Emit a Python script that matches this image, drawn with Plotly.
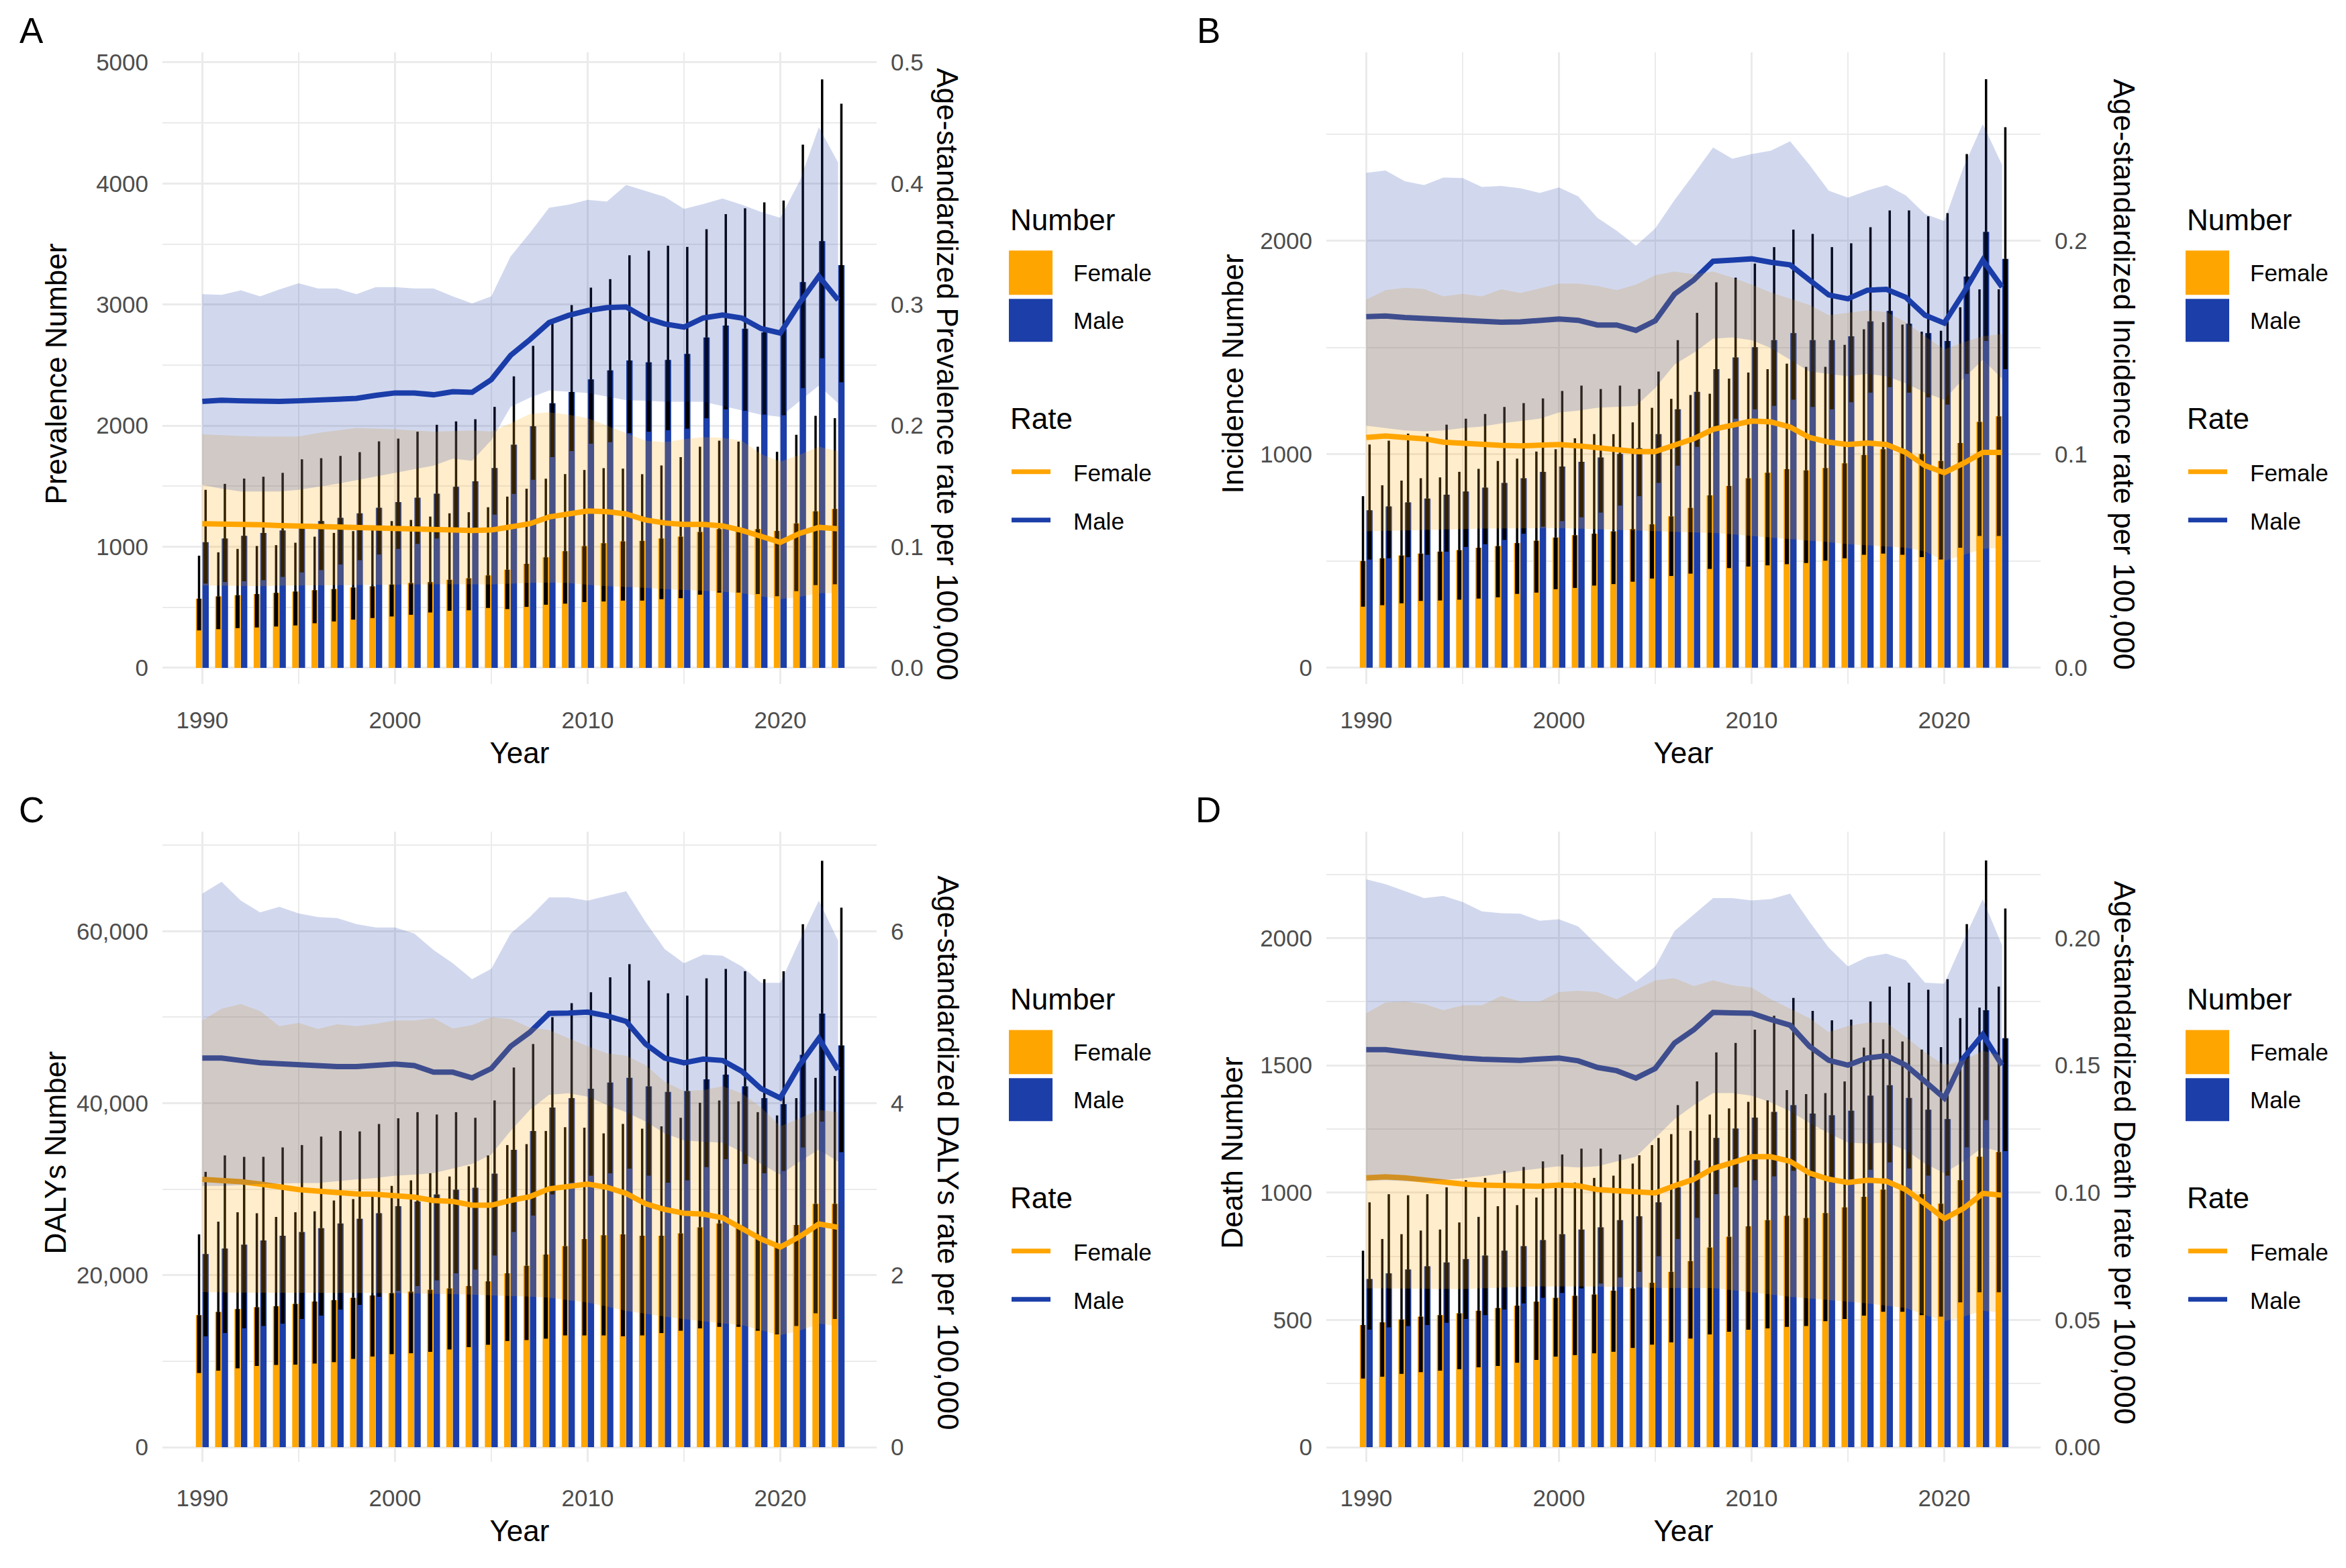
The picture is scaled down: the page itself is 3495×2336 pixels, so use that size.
import plotly.graph_objects as go

years = list(range(1990, 2024))

# ---- A: prevalence ----
A_f_num = [571, 590, 600, 609, 619, 630, 641, 651, 663, 673,
           688, 700, 708, 727, 739, 763, 810, 859, 913, 963,
           1005, 1029, 1044, 1048, 1068, 1083, 1122, 1145, 1153, 1145,
           1130, 1192, 1293, 1312]
A_f_lo = [309, 319, 328, 333, 341, 350, 368, 383, 398, 411,
          424, 438, 457, 471, 475, 494, 485, 503, 521, 530,
          543, 548, 555, 555, 567, 575, 604, 621, 621, 609,
          591, 633, 683, 690]
A_f_hi = [926, 954, 982, 1006, 1013, 1033, 1083, 1114, 1129, 1175,
          1212, 1221, 1249, 1276, 1285, 1326, 1414, 1479, 1562, 1600,
          1634, 1649, 1645, 1599, 1671, 1740, 1826, 1876, 1868, 1826,
          1784, 1925, 2081, 2061]
A_m_num = [1037, 1068, 1090, 1114, 1134, 1160, 1212, 1239, 1276, 1322,
           1368, 1405, 1438, 1495, 1540, 1650, 1842, 1995, 2185, 2278,
           2382, 2456, 2538, 2523, 2543, 2592, 2728, 2827, 2800, 2770,
           2800, 3185, 3523, 3326]
A_m_lo = [696, 709, 715, 724, 751, 788, 807, 853, 889, 936,
          982, 1024, 1068, 1120, 1160, 1265, 1436, 1553, 1740, 1790,
          1851, 1863, 1938, 1950, 1962, 1975, 2061, 2135, 2123, 2091,
          2086, 2309, 2556, 2358]
A_m_hi = [1470, 1519, 1563, 1578, 1610, 1722, 1731, 1750, 1781, 1870,
          1893, 1950, 2007, 2035, 2053, 2155, 2407, 2659, 2853, 2995,
          3140, 3210, 3407, 3444, 3486, 3476, 3622, 3746, 3795, 3844,
          3859, 4321, 4860, 4658]
A_f_rate = [0.119, 0.119, 0.1188, 0.1182, 0.1175, 0.117, 0.1165, 0.1162, 0.116, 0.1158,
            0.1155, 0.115, 0.1142, 0.1138, 0.1135, 0.1138, 0.1163, 0.119, 0.1246, 0.1275,
            0.1295, 0.129, 0.127, 0.1221, 0.1196, 0.1184, 0.1184, 0.1172, 0.1135, 0.1086,
            0.1036, 0.111, 0.116, 0.1148]
A_f_rlo = [0.068, 0.0678, 0.0675, 0.0675, 0.0678, 0.068, 0.0682, 0.0684, 0.0686, 0.0687,
           0.0687, 0.0688, 0.069, 0.0692, 0.069, 0.0688, 0.0695, 0.0702, 0.0703, 0.07,
           0.0685, 0.0675, 0.0666, 0.066, 0.065, 0.0641, 0.0635, 0.0628, 0.0616, 0.059,
           0.0567, 0.0585, 0.0616, 0.0616]
A_f_rhi = [0.1929, 0.192, 0.1915, 0.191, 0.191, 0.191, 0.194, 0.196, 0.198, 0.1975,
           0.197, 0.196, 0.195, 0.1955, 0.196, 0.195, 0.2019, 0.2096, 0.211, 0.209,
           0.2061, 0.2, 0.1938, 0.1876, 0.1863, 0.1888, 0.1905, 0.19, 0.1876, 0.1765,
           0.1703, 0.176, 0.1826, 0.1789]
A_m_rate = [0.22, 0.221, 0.2205, 0.22, 0.22, 0.2205, 0.221, 0.2215, 0.2225, 0.225,
            0.227, 0.227, 0.2255, 0.228, 0.2275, 0.238, 0.258, 0.271, 0.2852, 0.291,
            0.295, 0.2975, 0.298, 0.2889, 0.284, 0.2814, 0.2889, 0.2913, 0.2889, 0.2802,
            0.2765, 0.3012, 0.3234, 0.3037]
A_m_rlo = [0.151, 0.148, 0.1456, 0.1456, 0.1456, 0.147, 0.1495, 0.152, 0.155, 0.158,
           0.161, 0.164, 0.167, 0.1727, 0.171, 0.188, 0.2155, 0.223, 0.229, 0.228,
           0.227, 0.224, 0.221, 0.2205, 0.2197, 0.2197, 0.2197, 0.216, 0.2125, 0.209,
           0.2073, 0.22, 0.233, 0.2185]
A_m_rhi = [0.3086, 0.308, 0.3117, 0.3067, 0.3125, 0.3176, 0.3133, 0.3133, 0.3086, 0.3144,
           0.3144, 0.3133, 0.3133, 0.3067, 0.3009, 0.3067, 0.3397, 0.3591, 0.38, 0.3824,
           0.3864, 0.385, 0.3988, 0.394, 0.389, 0.379, 0.383, 0.3876, 0.3824, 0.3765,
           0.3716, 0.4018, 0.4464, 0.4173]

# ---- B: incidence ----
B_f_num = [500, 513, 526, 535, 544, 551, 562, 570, 584, 595,
           610, 621, 628, 639, 650, 672, 709, 749, 808, 852,
           888, 914, 930, 925, 936, 958, 996, 1024, 1024, 1002,
           969, 1053, 1152, 1178]
B_f_lo = [286, 293, 302, 313, 315, 319, 324, 330, 346, 352,
          368, 374, 385, 392, 403, 418, 430, 441, 463, 467,
          474, 480, 485, 491, 502, 513, 529, 535, 529, 518,
          507, 562, 617, 617]
B_f_hi = [804, 855, 877, 888, 892, 918, 932, 969, 980, 1013,
          1024, 1075, 1095, 1095, 1150, 1218, 1260, 1278, 1284, 1355,
          1383, 1399, 1425, 1410, 1410, 1513, 1586, 1619, 1608, 1575,
          1579, 1689, 1773, 1773]
B_m_num = [738, 756, 775, 793, 811, 826, 844, 866, 888, 918,
           943, 965, 985, 1002, 1029, 1095, 1211, 1293, 1399, 1454,
           1502, 1535, 1568, 1535, 1535, 1553, 1623, 1672, 1612, 1568,
           1531, 1833, 2042, 1916]
B_m_lo = [507, 513, 518, 529, 544, 566, 579, 599, 628, 661,
          687, 705, 727, 760, 804, 866, 947, 1035, 1123, 1167,
          1211, 1227, 1256, 1222, 1211, 1244, 1289, 1315, 1289, 1267,
          1233, 1377, 1531, 1399]
B_m_hi = [1046, 1064, 1097, 1097, 1139, 1167, 1189, 1222, 1240, 1262,
          1297, 1322, 1306, 1322, 1306, 1388, 1535, 1663, 1806, 1828,
          1894, 1971, 2053, 2033, 1971, 1989, 2064, 2143, 2143, 2115,
          2130, 2407, 2758, 2533]
B_f_rate = [0.1079, 0.1086, 0.1079, 0.1073, 0.1057, 0.1051, 0.1046, 0.1042, 0.104, 0.1042,
            0.1046, 0.104, 0.1029, 0.1024, 0.1013, 0.1013, 0.104, 0.1073, 0.1117, 0.1139,
            0.1156, 0.1152, 0.1128, 0.1079, 0.1057, 0.1046, 0.1053, 0.1046, 0.1009, 0.0947,
            0.0914, 0.0958, 0.1009, 0.1009]
B_f_rlo = [0.0639, 0.064, 0.0642, 0.0645, 0.0648, 0.065, 0.0652, 0.0653, 0.0654, 0.0654,
           0.0654, 0.0652, 0.065, 0.0648, 0.0645, 0.064, 0.0637, 0.0634, 0.0632, 0.0625,
           0.0617, 0.061, 0.0601, 0.0595, 0.0588, 0.0579, 0.0573, 0.0568, 0.0562, 0.0545,
           0.05, 0.0529, 0.0557, 0.0562]
B_f_rhi = [0.1725, 0.1769, 0.178, 0.1775, 0.174, 0.1752, 0.174, 0.1773, 0.1756, 0.1778,
           0.18, 0.18, 0.1789, 0.1769, 0.1795, 0.1839, 0.1857, 0.1844, 0.1857, 0.1828,
           0.1795, 0.1758, 0.1729, 0.17, 0.1652, 0.1663, 0.1674, 0.1667, 0.1619, 0.1553,
           0.1491, 0.1526, 0.1553, 0.1564]
B_m_rate = [0.1645, 0.1648, 0.1641, 0.1637, 0.1632, 0.1626, 0.1623, 0.1619, 0.1621, 0.1628,
            0.1634, 0.1628, 0.1606, 0.1606, 0.1581, 0.1626, 0.1751, 0.1817, 0.1905, 0.191,
            0.1916, 0.19, 0.1888, 0.1817, 0.1747, 0.1729, 0.1769, 0.1773, 0.1736, 0.1652,
            0.1615, 0.1756, 0.191, 0.1784]
B_m_rlo = [0.1134, 0.1123, 0.1112, 0.1108, 0.1112, 0.1123, 0.113, 0.1145, 0.1156, 0.1167,
           0.1196, 0.1205, 0.1218, 0.1222, 0.1227, 0.1311, 0.1421, 0.1476, 0.1542, 0.1548,
           0.1535, 0.1498, 0.1443, 0.1388, 0.1377, 0.1366, 0.1377, 0.1366, 0.1333, 0.1289,
           0.1256, 0.1355, 0.1443, 0.1355]
B_m_rhi = [0.2319, 0.233, 0.228, 0.2262, 0.2297, 0.2295, 0.2253, 0.2258, 0.2247, 0.2225,
           0.2251, 0.2209, 0.2108, 0.2048, 0.1978, 0.2059, 0.2192, 0.2313, 0.2438, 0.2385,
           0.2407, 0.2423, 0.2467, 0.2357, 0.2236, 0.2203, 0.2236, 0.2262, 0.2214, 0.2126,
           0.2093, 0.2346, 0.2548, 0.2357]

# ---- C: DALYs ----
C_f_num = [15354, 15737, 16064, 16283, 16392, 16665, 16938, 17102, 17376, 17649,
           17922, 18086, 18304, 18468, 18742, 19288, 20217, 21091, 22402, 23386,
           24206, 24643, 24752, 24588, 24588, 24861, 25572, 26009, 25462, 24206,
           23386, 25845, 28304, 28304]
C_f_lo = [8633, 8906, 9180, 9453, 9562, 9600, 9726, 9890, 10272, 10546,
          10819, 10928, 11092, 11365, 11638, 11912, 12349, 12458, 12622, 13004,
          13004, 13004, 12895, 13004, 13278, 13551, 13824, 13988, 13988, 13551,
          13114, 14097, 15572, 14917]
C_f_hi = [24752, 26228, 27320, 27211, 26774, 27320, 27430, 28686, 28850, 29670,
          30380, 31036, 31855, 31473, 32675, 33932, 35134, 35243, 36773, 37210,
          37155, 36500, 37593, 37046, 37320, 38303, 40052, 40325, 40216, 38959,
          38577, 40598, 42948, 43166]
C_m_num = [22457, 23113, 23550, 24042, 24588, 25025, 25462, 26009, 26555, 27211,
           28031, 28577, 29396, 29943, 30161, 31800, 34587, 36773, 39505, 40598,
           41690, 42401, 42948, 41964, 41308, 41417, 42783, 43330, 41964, 40598,
           39887, 45624, 50433, 46717]
C_m_lo = [12895, 13278, 13824, 14097, 14370, 14917, 15299, 16010, 16556, 17485,
          18195, 18741, 19397, 20217, 20654, 22293, 25025, 26938, 29396, 30762,
          31582, 31855, 32402, 31582, 30762, 31036, 32566, 33495, 32948, 31855,
          32129, 34860, 37866, 34314]
C_m_hi = [32019, 33932, 33768, 33768, 34860, 35134, 36117, 36773, 36718, 37593,
          38248, 38959, 38686, 38959, 38303, 40325, 44149, 46881, 49996, 51635,
          52892, 54640, 56170, 54258, 52782, 52509, 54530, 55623, 55350, 54421,
          55350, 60815, 68191, 62727]
C_f_rate = [3.115, 3.104, 3.087, 3.06, 3.022, 2.995, 2.978, 2.956, 2.945, 2.94,
            2.929, 2.907, 2.869, 2.858, 2.814, 2.814, 2.869, 2.913, 3.005, 3.038,
            3.06, 3.022, 2.951, 2.831, 2.765, 2.721, 2.71, 2.667, 2.546, 2.421,
            2.328, 2.448, 2.596, 2.557]
C_f_rlo = [1.803, 1.8, 1.797, 1.795, 1.793, 1.792, 1.792, 1.792, 1.792, 1.792,
           1.792, 1.79, 1.785, 1.78, 1.775, 1.765, 1.76, 1.75, 1.738, 1.71,
           1.683, 1.635, 1.585, 1.55, 1.519, 1.49, 1.464, 1.44, 1.421, 1.36,
           1.301, 1.355, 1.437, 1.41]
C_f_rhi = [4.962, 5.098, 5.153, 5.071, 4.896, 4.934, 4.863, 4.918, 4.896, 4.923,
           4.962, 4.962, 4.989, 4.869, 4.907, 5.0, 4.978, 4.88, 4.852, 4.754,
           4.661, 4.579, 4.552, 4.443, 4.251, 4.142, 4.153, 4.197, 4.115, 3.951,
           3.732, 3.825, 3.923, 3.896]
C_m_rate = [4.525, 4.525, 4.497, 4.47, 4.459, 4.443, 4.432, 4.426, 4.426, 4.443,
            4.454, 4.437, 4.361, 4.361, 4.295, 4.404, 4.661, 4.825, 5.044, 5.049,
            5.06, 5.016, 4.951, 4.689, 4.525, 4.47, 4.514, 4.497, 4.372, 4.169,
            4.06, 4.443, 4.754, 4.388]
C_m_rlo = [3.038, 3.038, 3.049, 3.06, 3.066, 3.071, 3.071, 3.093, 3.115, 3.131,
           3.158, 3.169, 3.186, 3.24, 3.295, 3.404, 3.678, 3.923, 4.098, 4.115,
           4.077, 3.978, 3.896, 3.787, 3.65, 3.568, 3.552, 3.541, 3.432, 3.295,
           3.169, 3.322, 3.459, 3.322]
C_m_rhi = [6.437, 6.574, 6.355, 6.219, 6.284, 6.208, 6.164, 6.153, 6.082, 6.044,
           6.044, 5.973, 5.781, 5.628, 5.443, 5.563, 5.973, 6.164, 6.393, 6.393,
           6.355, 6.41, 6.464, 6.109, 5.792, 5.628, 5.727, 5.716, 5.59, 5.399,
           5.399, 5.891, 6.355, 5.891]

# ---- D: deaths ----
D_f_num = [480, 491, 502, 513, 519, 526, 536, 547, 556, 572,
           587, 595, 600, 615, 624, 646, 689, 731, 785, 827,
           868, 892, 909, 901, 920, 942, 984, 1012, 1016, 994,
           957, 1049, 1141, 1160]
D_f_lo = [270, 277, 288, 295, 301, 307, 314, 319, 332, 343,
          356, 362, 369, 375, 390, 403, 412, 427, 443, 454,
          462, 467, 473, 476, 495, 504, 517, 532, 532, 519,
          513, 569, 609, 609]
D_f_hi = [772, 818, 837, 851, 855, 883, 905, 947, 951, 981,
          1018, 1040, 1058, 1067, 1114, 1187, 1230, 1243, 1307, 1331,
          1357, 1363, 1403, 1387, 1391, 1437, 1570, 1603, 1594, 1562,
          1572, 1686, 1727, 1810]
D_m_num = [661, 683, 698, 711, 726, 739, 753, 772, 790, 814,
           837, 855, 864, 892, 907, 962, 1021, 1127, 1215, 1252,
           1295, 1317, 1344, 1311, 1304, 1322, 1381, 1422, 1372, 1326,
           1289, 1544, 1717, 1607]
D_m_lo = [462, 471, 476, 480, 489, 504, 519, 541, 565, 587,
          606, 624, 643, 667, 689, 750, 818, 901, 994, 1021,
          1049, 1064, 1086, 1058, 1040, 1053, 1090, 1119, 1095, 1067,
          1067, 1178, 1285, 1163]
D_m_hi = [962, 994, 990, 994, 1021, 1049, 1058, 1086, 1101, 1123,
          1150, 1173, 1173, 1150, 1147, 1215, 1344, 1437, 1551, 1588,
          1640, 1695, 1765, 1714, 1677, 1680, 1751, 1810, 1825, 1797,
          1839, 2055, 2305, 2116]
D_f_rate = [0.1058, 0.1062, 0.1058, 0.1049, 0.104, 0.1034, 0.103, 0.1027, 0.1025, 0.1025,
            0.103, 0.1027, 0.1012, 0.1008, 0.0999, 0.0999, 0.1027, 0.1053, 0.1095, 0.1119,
            0.1141, 0.1141, 0.1123, 0.1077, 0.1053, 0.104, 0.1049, 0.1045, 0.1012, 0.0957,
            0.0898, 0.0938, 0.0997, 0.099]
D_f_rlo = [0.0624, 0.0624, 0.0623, 0.0623, 0.0622, 0.0621, 0.0624, 0.0627, 0.063, 0.0632,
           0.0633, 0.0632, 0.0631, 0.063, 0.0628, 0.0626, 0.0625, 0.0625, 0.0625, 0.0617,
           0.0609, 0.06, 0.0591, 0.0585, 0.0578, 0.0572, 0.0565, 0.0556, 0.0547, 0.052,
           0.0495, 0.0513, 0.0536, 0.0528]
D_f_rhi = [0.1705, 0.1747, 0.1751, 0.1741, 0.1717, 0.1736, 0.1736, 0.1773, 0.1751, 0.1751,
           0.1788, 0.1793, 0.1788, 0.176, 0.1797, 0.1834, 0.1843, 0.1812, 0.1834, 0.1815,
           0.1806, 0.176, 0.1723, 0.1686, 0.1631, 0.1655, 0.1668, 0.1668, 0.1612, 0.1551,
           0.1501, 0.152, 0.1557, 0.1538]
D_m_rate = [0.1562, 0.1562, 0.1553, 0.1544, 0.1538, 0.1529, 0.1524, 0.152, 0.152, 0.1525,
            0.1529, 0.1518, 0.1492, 0.1479, 0.145, 0.1488, 0.1588, 0.164, 0.1708, 0.1706,
            0.1705, 0.168, 0.1658, 0.1575, 0.152, 0.1501, 0.1529, 0.1538, 0.1501, 0.1437,
            0.1372, 0.1529, 0.1621, 0.1501]
D_m_rlo = [0.1045, 0.1049, 0.1045, 0.1043, 0.1049, 0.1056, 0.1064, 0.1075, 0.1086, 0.1095,
           0.1104, 0.1099, 0.1104, 0.1123, 0.1141, 0.1215, 0.1289, 0.1344, 0.1391, 0.1391,
           0.1381, 0.1354, 0.132, 0.1274, 0.1234, 0.1197, 0.1193, 0.1197, 0.1168, 0.1114,
           0.1077, 0.1123, 0.1178, 0.116]
D_m_rhi = [0.2231, 0.2212, 0.2185, 0.2157, 0.2166, 0.2142, 0.2105, 0.2098, 0.2096, 0.2068,
           0.2074, 0.2046, 0.1972, 0.1898, 0.1828, 0.1889, 0.2028, 0.2092, 0.2157, 0.2157,
           0.2148, 0.2153, 0.2175, 0.2065, 0.1963, 0.1889, 0.1926, 0.1939, 0.1913, 0.1825,
           0.1821, 0.1991, 0.2153, 0.1972]

ORANGE = "#FFA500"
BLUE = "#1B3EA9"
GRID = "#EBEBEB"
TICK = "#4D4D4D"
FONT = "Liberation Sans, Arial, Helvetica, sans-serif"
W, H = 3495, 2336
SCALE = 10000  # rate axis = number axis / SCALE


def fx(v):
    return v / W


def fy(v):
    return 1 - v / H


def label(text, x, y, size, anchor="left", angle=0):
    return dict(text=text, x=fx(x), y=fy(y), xref="paper", yref="paper",
                xanchor=anchor, yanchor="middle", textangle=angle,
                font=dict(size=size, color="black"), showarrow=False)


panels = [
    dict(tag="A", name="Prevalence", col=0, row=0, yr=[-135, 5085], dt=1000, mdt=500, fmt="d", rdt=0.1, rfmt=".1f",
         f=(A_f_num, A_f_lo, A_f_hi, A_f_rate, A_f_rlo, A_f_rhi),
         m=(A_m_num, A_m_lo, A_m_hi, A_m_rate, A_m_rlo, A_m_rhi)),
    dict(tag="B", name="Incidence", col=1, row=0, yr=[-77, 2885], dt=1000, mdt=500, fmt="d", rdt=0.1, rfmt=".1f",
         f=(B_f_num, B_f_lo, B_f_hi, B_f_rate, B_f_rlo, B_f_rhi),
         m=(B_m_num, B_m_lo, B_m_hi, B_m_rate, B_m_rlo, B_m_rhi)),
    dict(tag="C", name="DALYs", col=0, row=1, yr=[-1750, 71600], dt=20000, mdt=10000, fmt=",d", rdt=2, rfmt="d",
         f=(C_f_num, C_f_lo, C_f_hi, C_f_rate, C_f_rlo, C_f_rhi),
         m=(C_m_num, C_m_lo, C_m_hi, C_m_rate, C_m_rlo, C_m_rhi)),
    dict(tag="D", name="Death", col=1, row=1, yr=[-59, 2419], dt=500, mdt=250, fmt="d", rdt=0.05, rfmt=".2f",
         f=(D_f_num, D_f_lo, D_f_hi, D_f_rate, D_f_rlo, D_f_rhi),
         m=(D_m_num, D_m_lo, D_m_hi, D_m_rate, D_m_rlo, D_m_rhi)),
]

col_px = [(242, 1306), (1976, 3040)]
row_px = [(73.7, 1017), (1236.8, 2178.2)]
text_dx = [0, 1753]
text_dy = [0, 1163]

fig = go.Figure()
annotations = []
shapes = []
layout_axes = {}

for i, p in enumerate(panels):
    n = i + 1
    xa = "x" if n == 1 else f"x{n}"
    ya = "y" if n == 1 else f"y{2 * n - 1}"
    yb = f"y{2 * n}"
    x0, x1 = col_px[p["col"]]
    top, bot = row_px[p["row"]]
    dx = text_dx[p["col"]]
    dy = text_dy[p["row"]]

    # bars with uncertainty lines (thin above the bar, thicker below its top)
    for (num, lo, hi, _, _, _), color, off in [(p["f"], ORANGE, -0.335), (p["m"], BLUE, 0.005)]:
        fig.add_trace(go.Bar(
            x=years, y=num, width=0.33, offset=off, xaxis=xa, yaxis=ya,
            marker=dict(color=color, line=dict(width=0)),
            error_y=dict(type="data", symmetric=False,
                         array=[h - v for h, v in zip(hi, num)], arrayminus=[0] * len(num),
                         color="black", thickness=3.5, width=0),
            showlegend=False, hoverinfo="skip"))
        fig.add_trace(go.Bar(
            x=years, y=num, width=0.33, offset=off, xaxis=xa, yaxis=ya,
            marker=dict(color="rgba(0,0,0,0)", line=dict(width=0)),
            error_y=dict(type="data", symmetric=False,
                         array=[0] * len(num), arrayminus=[v - l for v, l in zip(num, lo)],
                         color="black", thickness=6, width=0),
            showlegend=False, hoverinfo="skip"))

    # rate lines, then the uncertainty ribbons drawn over them
    for (_, _, _, rate, _, _), color in [(p["f"], ORANGE), (p["m"], BLUE)]:
        fig.add_trace(go.Scatter(x=years, y=rate, mode="lines", line=dict(color=color, width=8),
                                 xaxis=xa, yaxis=yb, showlegend=False, hoverinfo="skip"))
    for (_, _, _, _, rlo, rhi), fill in [(p["f"], "rgba(255,165,0,0.2)"), (p["m"], "rgba(27,62,169,0.2)")]:
        fig.add_trace(go.Scatter(x=years + years[::-1], y=rhi + rlo[::-1], mode="lines",
                                 fill="toself", fillcolor=fill, line=dict(width=0),
                                 xaxis=xa, yaxis=yb, showlegend=False, hoverinfo="skip"))

    xkey = "xaxis" if n == 1 else f"xaxis{n}"
    yakey = "yaxis" if n == 1 else f"yaxis{2 * n - 1}"
    ybkey = f"yaxis{2 * n}"
    layout_axes[xkey] = dict(
        domain=[fx(x0), fx(x1)], range=[1987.93, 2025.0], anchor=ya,
        tickvals=[1990, 2000, 2010, 2020], ticks="", showline=False, zeroline=False,
        showgrid=True, gridcolor=GRID, gridwidth=3,
        minor=dict(dtick=5, tick0=1990, showgrid=True, gridcolor=GRID, gridwidth=2),
        tickfont=dict(size=35, color=TICK), ticklabelstandoff=30,
        title=dict(text="Year", font=dict(size=44, color="black"), standoff=14))
    layout_axes[yakey] = dict(
        domain=[fy(bot), fy(top)], range=p["yr"], anchor=xa, side="left",
        tick0=0, dtick=p["dt"], tickformat=p["fmt"], ticks="", showline=False, zeroline=False,
        showgrid=True, gridcolor=GRID, gridwidth=3,
        minor=dict(dtick=p["mdt"], tick0=0, showgrid=True, gridcolor=GRID, gridwidth=2),
        tickfont=dict(size=35, color=TICK), ticklabelstandoff=20)
    layout_axes[ybkey] = dict(
        overlaying=ya, anchor=xa, side="right", range=[v / SCALE for v in p["yr"]],
        tick0=0, dtick=p["rdt"], tickformat=p["rfmt"], ticks="", showline=False, zeroline=False,
        showgrid=False, tickfont=dict(size=35, color=TICK), ticklabelstandoff=20)

    ymid = (top + bot) / 2 + 9
    annotations += [
        label(p["tag"], 47 + dx, 42 + dy, 53, anchor="center"),
        label(f"{p['name']} Number", 83 + dx, ymid, 44, anchor="center", angle=-90),
        label(f"Age-standardized {p['name']} rate per 100,000", 1412 + dx, ymid, 44,
              anchor="center", angle=90),
    ]

    # legend: Number (bars) and Rate (lines)
    lx = 1503 + dx
    annotations += [
        label("Number", lx, 324 + dy, 44),
        label("Female", 1597 + dx, 403 + dy, 35),
        label("Male", 1597 + dx, 474 + dy, 35),
        label("Rate", lx, 621 + dy, 44),
        label("Female", 1597 + dx, 702 + dy, 35),
        label("Male", 1597 + dx, 774 + dy, 35),
    ]
    shapes += [
        dict(type="rect", xref="paper", yref="paper", x0=fx(lx), x1=fx(lx + 65),
             y0=fy(436 + dy), y1=fy(370 + dy), fillcolor=ORANGE, line=dict(width=0)),
        dict(type="rect", xref="paper", yref="paper", x0=fx(lx), x1=fx(lx + 65),
             y0=fy(506 + dy), y1=fy(442 + dy), fillcolor=BLUE, line=dict(width=0)),
        dict(type="line", xref="paper", yref="paper", x0=fx(lx + 4), x1=fx(lx + 62),
             y0=fy(700 + dy), y1=fy(700 + dy), line=dict(color=ORANGE, width=7)),
        dict(type="line", xref="paper", yref="paper", x0=fx(lx + 4), x1=fx(lx + 62),
             y0=fy(772 + dy), y1=fy(772 + dy), line=dict(color=BLUE, width=7)),
    ]

fig.update_layout(
    width=W, height=H,
    margin=dict(l=0, r=0, t=0, b=0),
    paper_bgcolor="white", plot_bgcolor="white",
    font=dict(family=FONT, color="black"),
    barmode="overlay", showlegend=False, hovermode=False,
    annotations=annotations, shapes=shapes,
    **layout_axes)

# drop the browser's default page margin so the figure sits at the top-left corner
fig.write_html("out.html", config={"displayModeBar": False},
               post_script="document.body.style.margin = '0';")
